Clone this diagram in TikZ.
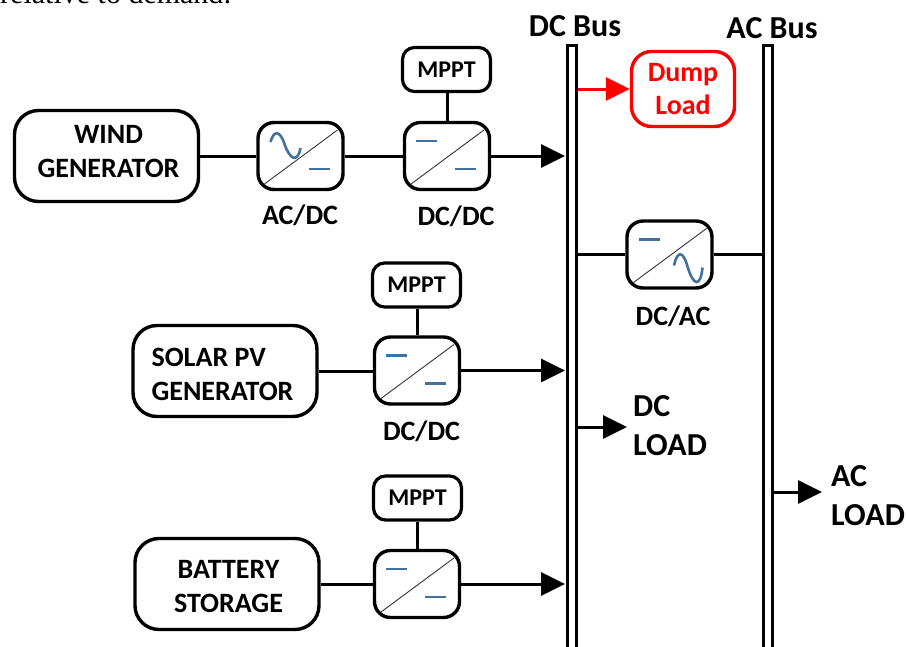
\documentclass[tikz,border=0pt]{standalone}
\usepackage{fontspec}
\setmainfont{Carlito}
\newfontfamily\serifcap{Liberation Serif}
\usetikzlibrary{arrows.meta,calc}
\definecolor{sym}{HTML}{41719C}
\tikzset{
 gen/.style={draw=black,line width=3.4pt,rounded corners=24pt,minimum width=184pt,minimum height=91pt,inner sep=0pt},
 gentext/.style={inner sep=0pt,font=\bfseries\fontsize{28}{34}\selectfont},
 conv/.style={draw=black,line width=3.4pt,rounded corners=16pt,minimum width=85pt,minimum height=67pt,inner sep=0pt},
 mppt/.style={draw=black,line width=3.2pt,rounded corners=12pt,minimum width=88pt,minimum height=44pt,inner sep=0pt,font=\bfseries\fontsize{24}{26}\selectfont},
 dump/.style={draw=red,text=red,line width=3.4pt,rounded corners=20pt,minimum width=103pt,minimum height=75pt,inner sep=0pt,align=center,font=\bfseries\fontsize{28}{33.5}\selectfont},
 busbar/.style={draw=black,line width=2.8pt,minimum width=9pt,inner sep=0pt},
 lbl/.style={inner sep=0pt,font=\bfseries\fontsize{28}{30}\selectfont},
 buslbl/.style={inner sep=0pt,font=\bfseries\fontsize{32}{34}\selectfont},
 biglbl/.style={inner sep=0pt,align=left,font=\bfseries\fontsize{32}{39}\selectfont},
 wire/.style={line width=3pt},
 flow/.style={line width=3pt,-{Triangle[length=24pt,width=23pt]}},
 flowred/.style={flow,draw=red,color=red},
 symb/.style={draw=sym,line width=2.6pt},
 diag/.style={draw=black!80,line width=0.9pt}
}
\newcommand{\dashUL}[1]{\draw[symb] ($(#1)+(-31,-15)$) -- ++(21,0);}
\newcommand{\dashLR}[1]{\draw[symb] ($(#1)+(8,13)$) -- ++(21,0);}
\newcommand{\diagline}[1]{\draw[diag] ($(#1)+(-36,28)$) -- ($(#1)+(37,-26)$);}
\begin{document}
\begin{tikzpicture}[x=1pt,y=-1pt]
\clip (0,0) rectangle (906,646);
\useasboundingbox (0,0) rectangle (906,646);
\node[anchor=base west,inner sep=0,font=\serifcap\fontsize{30}{30}\selectfont] (cap) at (0,3.5) {relative to demand:};

% buses
\node[busbar,minimum height=615pt] (dcbus) at (572,353) {};
\node[busbar,minimum height=615pt] (acbus) at (768,353) {};
\node[buslbl] (dcl) at (575,26) {DC Bus};
\node[buslbl] (acl) at (772,28) {AC Bus};

% wind
\node[gen] (wind) at (106.5,156) {};
\node[gentext,align=center] (windt) at (108.5,152) {WIND\\GENERATOR};
\node[conv] (acdc) at (300.5,156) {};
\node[conv] (dcdca) at (447,156) {};
\node[mppt] (mppta) at (446.5,69.5) {MPPT};
\node[lbl] (lacdc) at (300,215) {AC/DC};
\node[lbl] (ldcdca) at (456,216) {DC/DC};
\draw[wire] (wind) -- (acdc);
\draw[wire] (acdc) -- (dcdca);
\draw[wire] (mppta.south -| dcdca.north) -- (dcdca.north);
\coordinate (ina) at (565,156);
\draw[flow] (dcdca.east) -- (ina);

% solar
\node[gen] (solar) at (225,371) {};
\node[gentext,align=left] (solart) at (222.5,374.5) {SOLAR PV\\GENERATOR};
\node[conv] (dcdcb) at (417,370.5) {};
\node[mppt] (mpptb) at (416.5,285) {MPPT};
\node[lbl] (ldcdcb) at (421.5,431) {DC/DC};
\draw[wire] (solar) -- (solar -| dcdcb.west);
\draw[wire] (mpptb.south -| dcdcb.north) -- (dcdcb.north);
\coordinate (inb) at (565,370.5);
\draw[flow] (dcdcb.east) -- (inb);

% battery
\node[gen] (batt) at (227,584) {};
\node[gentext,align=center] (battt) at (228.5,587) {BATTERY\\STORAGE};
\node[conv] (dcdcc) at (417,584) {};
\node[mppt] (mpptc) at (417.5,498) {MPPT};
\draw[wire] (batt) -- (dcdcc);
\draw[wire] (mpptc.south -| dcdcc.north) -- (dcdcc.north);
\coordinate (inc) at (565,584);
\draw[flow] (dcdcc.east) -- (inc);

% dump load
\node[dump] (dumpl) at (683,89) {Dump\\Load};
\draw[flowred] (dcbus.east |- dumpl.west) -- (dumpl.west);

% inverter
\node[conv] (dcac) at (669.5,254.5) {};
\node[lbl] (ldcac) at (673,316) {DC/AC};
\draw[wire] (dcbus.east |- dcac.west) -- (dcac.west);
\draw[wire] (dcac.east) -- (dcac.east -| acbus.west);

% loads
\node[biglbl,anchor=west] (dcload) at (633,426) {DC\\LOAD};
\node[biglbl,anchor=west] (acload) at (831,496) {AC\\LOAD};
\coordinate (dcin) at (627,427);
\coordinate (acin) at (822,492);
\draw[flow] (dcbus.east |- dcin) -- (dcin);
\draw[flow] (acbus.east |- acin) -- (acin);

% converter symbols
\foreach \n in {acdc,dcdca,dcdcb,dcdcc,dcac}{\diagline{\n}}
\foreach \n in {dcdca,dcdcb,dcdcc,dcac}{\dashUL{\n}}
\foreach \n in {acdc,dcdca,dcdcb,dcdcc}{\dashLR{\n}}
\draw[symb] ($(acdc)+(-30,-14)$) .. controls ($(acdc)+(-27,-25)$) and ($(acdc)+(-21,-27)$) .. ($(acdc)+(-16,-12)$) .. controls ($(acdc)+(-11,3)$) and ($(acdc)+(-3,8)$) .. ($(acdc)+(0,-8)$);
\draw[symb] ($(dcac)+(4.5,11)$) .. controls ($(dcac)+(8,-5)$) and ($(dcac)+(14,-3)$) .. ($(dcac)+(18,12)$) .. controls ($(dcac)+(24,32)$) and ($(dcac)+(31,33)$) .. ($(dcac)+(33,13)$);
\end{tikzpicture}
\end{document}
